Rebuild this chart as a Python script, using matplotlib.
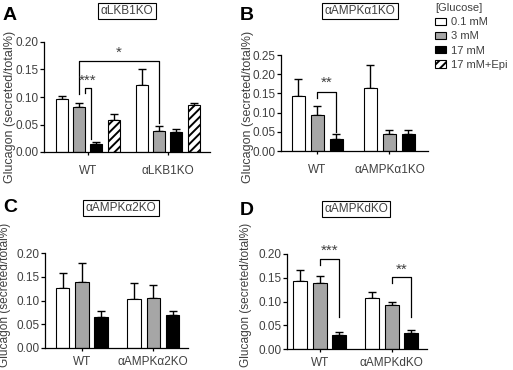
import numpy as np
import matplotlib
matplotlib.use("Agg")
import matplotlib.pyplot as plt

plt.rcParams['font.family'] = ['Liberation Sans', 'DejaVu Sans']
plt.rcParams['hatch.linewidth'] = 1.4

W, H = 513, 370

conditions = ["0.1 mM", "3 mM", "17 mM", "17 mM+Epi"]

# panel A: alpha-LKB1KO
a_groups = ["WT", "αLKB1KO"]
a_mean = [[0.096, 0.081, 0.015, 0.059], [0.121, 0.038, 0.037, 0.085]]
a_err = [[0.006, 0.009, 0.004, 0.011], [0.030, 0.010, 0.004, 0.005]]

# panel B: alpha-AMPKa1KO
b_groups = ["WT", "αAMPKα1KO"]
b_mean = [[0.142, 0.095, 0.030], [0.163, 0.043, 0.043]]
b_err = [[0.045, 0.021, 0.015], [0.061, 0.012, 0.011]]

# panel C: alpha-AMPKa2KO
c_groups = ["WT", "αAMPKα2KO"]
c_mean = [[0.127, 0.140, 0.066], [0.103, 0.106, 0.069]]
c_err = [[0.030, 0.040, 0.011], [0.034, 0.026, 0.008]]

# panel D: alpha-AMPKdKO
d_groups = ["WT", "αAMPKdKO"]
d_mean = [[0.144, 0.140, 0.029], [0.108, 0.092, 0.033]]
d_err = [[0.023, 0.014, 0.007], [0.011, 0.007, 0.008]]

colors = ["white", "#a6a6a6", "black", "white"]
hatches = [None, None, None, "////"]
txt = "#404040"

fig = plt.figure(figsize=(W / 100, H / 100), dpi=100)


def px_axes(l, r, t, b):
    return fig.add_axes([l / W, 1 - b / H, (r - l) / W, (b - t) / H])


def draw_panel(ax, groups, means, errs, shift, xlim, ymax, width, xpad):
    handles = []
    for g in range(len(groups)):
        for i, (m, e) in enumerate(zip(means[g], errs[g])):
            x = g * shift + i
            bc = ax.bar(x, m, width, color=colors[i], edgecolor="black",
                        linewidth=0.8, hatch=hatches[i], zorder=2)
            ax.errorbar(x, m, yerr=[[0], [e]], fmt="none", ecolor="black",
                        elinewidth=1.0, capsize=2.6, capthick=1.0, zorder=1)
            if g == 0:
                handles.append(bc)
    n = len(means[0])
    ax.set_xticks([(n - 1) / 2 + g * shift for g in range(len(groups))])
    ax.set_xticklabels(groups, fontsize=8.5, color=txt)
    ax.set_xlim(*xlim)
    ax.set_ylim(0, ymax)
    ticks = np.arange(0, ymax + 0.001, 0.05)
    ax.set_yticks(ticks)
    ax.set_yticklabels(["%.2f" % v for v in ticks], fontsize=8.5, color=txt)
    for s in ["top", "right"]:
        ax.spines[s].set_visible(False)
    for s in ["left", "bottom"]:
        ax.spines[s].set_linewidth(0.9)
    ax.tick_params(axis="y", length=3, width=0.9, pad=1)
    ax.tick_params(axis="x", length=2.5, width=0.9, pad=xpad)
    return handles


def bracket(ax, x1, x2, ytop, y1, y2, label, ty):
    ax.plot([x1, x1, x2, x2], [y1, ytop, ytop, y2], color="black", lw=0.9,
            clip_on=False)
    ax.text((x1 + x2) / 2, ty, label, ha="center", va="center", fontsize=11,
            color=txt, clip_on=False)


axA = px_axes(44, 210, 42, 152)
axB = px_axes(281, 428, 55, 151)
axC = px_axes(45, 188, 253, 348)
axD = px_axes(287, 427, 254, 349)

hA = draw_panel(axA, a_groups, a_mean, a_err, 4.65, (-1.04, 8.6), 0.2, 0.69, 7)
draw_panel(axB, b_groups, b_mean, b_err, 3.79, (-0.92, 6.82), 0.25, 0.7, 7)
draw_panel(axC, c_groups, c_mean, c_err, 3.7, (-0.91, 6.5), 0.2, 0.7, 3.5)
draw_panel(axD, d_groups, d_mean, d_err, 3.69, (-0.67, 6.5), 0.2, 0.72, 3.5)

# significance brackets
bracket(axA, 1.0, 4.65 + 1, 0.166, 0.105, 0.053, "*", 0.181)
bracket(axA, 1.33, 1.68, 0.116, 0.107, 0.024, "***", 0.130)
bracket(axB, 1.0, 2.0, 0.153, 0.137, 0.050, "**", 0.178)
bracket(axD, 1.0, 2.0, 0.189, 0.176, 0.067, "***", 0.206)
bracket(axD, 3.69 + 1, 3.69 + 2, 0.151, 0.139, 0.067, "**", 0.167)

ylab = "Glucagon (secreted/total%)"
for ax, xc, yc, fs in [(axA, -0.17, 0.41, 9), (axB, -0.184, 0.46, 9),
                       (axC, -0.24, 0.56, 8.6), (axD, -0.25, 0.57, 8.6)]:
    ax.set_ylabel(ylab, fontsize=fs, color=txt)
    ax.yaxis.set_label_coords(xc, yc)

# boxed panel titles
box = dict(boxstyle="square,pad=0.2", fc="white", ec="black", lw=0.8)
for x, y, t in [(127, 11, "αLKB1KO"), (360, 11, "αAMPKα1KO"),
                (121, 208, "αAMPKα2KO"), (356, 209, "αAMPKdKO")]:
    fig.text(x / W, 1 - y / H, t, ha="center", va="center", fontsize=8.5,
             color=txt, bbox=box)

for x, y, t in [(10, 15, "A"), (247, 15, "B"), (10, 208, "C"), (247, 211, "D")]:
    fig.text(x / W, 1 - y / H, t, ha="center", va="center", fontsize=14,
             fontweight="bold", color="black")

leg = fig.legend(hA, conditions, loc="upper left",
                 bbox_to_anchor=(435 / W, 1 - 3 / H), title="[Glucose]",
                 alignment="left", frameon=False, fontsize=8,
                 title_fontsize=8, handlelength=0.95, handleheight=0.6,
                 labelspacing=0.38, handletextpad=0.5, borderpad=0,
                 borderaxespad=0)
for t in leg.get_texts():
    t.set_color(txt)
leg.get_title().set_color(txt)

fig.savefig("out.png", dpi=100)
